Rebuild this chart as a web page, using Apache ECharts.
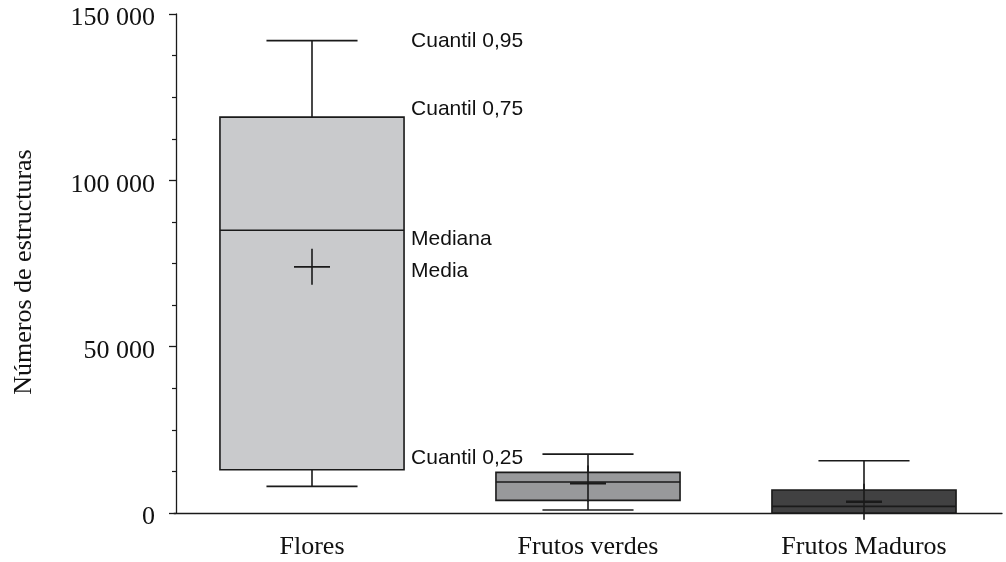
<!DOCTYPE html>
<html>
<head>
<meta charset="utf-8">
<script src="https://cdn.jsdelivr.net/npm/echarts@6/dist/echarts.min.js"></script>
<style>
  html, body { margin: 0; padding: 0; background: #fff; }
</style>
</head>
<body>
<div id="boxEcharts" style="width:1006px;height:562px"></div>
<script>
// datos
const categories = ['Flores', 'Frutos verdes', 'Frutos Maduros']
const lowWhisker = [8000, 900, 0]        // inferior
const q1 = [13000, 3800, 0]              // Cuantil 0,25
const median = [85000, 9300, 2000]       // Mediana
const q3 = [119000, 12200, 6900]         // Cuantil 0,75
const highWhisker = [142000, 17700, 15700] // Cuantil 0,95
const mean = [74000, 8900, 3400]         // Media
const yTicks = [0, 50000, 100000, 150000]
const annotations = ['Cuantil 0,95', 'Cuantil 0,75', 'Mediana', 'Media', 'Cuantil 0,25']

const boxColors = ['#c9cacc', '#98999b', '#414142']
const strokeColor = '#1a1a1a'

const boxData = categories.map((c, i) => [i, lowWhisker[i], q1[i], median[i], q3[i], highWhisker[i], mean[i]])
// etiquetas solo para la primera caja (Flores)
const annValues = [highWhisker[0], q3[0], median[0], mean[0], q1[0]]
const annShift = [1, -8, 9, 4, -12]
const annData = annotations.map((t, k) => [0, annValues[k], k])

function fmt(v) {
  return String(v).replace(/\B(?=(\d{3})+(?!\d))/g, ' ')
}

const chart = echarts.init(document.getElementById('boxEcharts'))
const option = {
  animation: false,
  backgroundColor: '#fff',
  grid: { left: 174, right: 4, top: 14, bottom: 49 },
  xAxis: {
    type: 'category',
    data: categories,
    axisLine: { lineStyle: { color: strokeColor, width: 1.3 } },
    axisTick: { alignWithLabel: true, length: 6, lineStyle: { color: strokeColor, width: 1.3 } },
    axisLabel: {
      color: '#111',
      fontFamily: 'Liberation Serif',
      fontSize: 26,
      margin: 21
    },
    splitLine: { show: false }
  },
  yAxis: {
    type: 'value',
    min: 0,
    max: 150000,
    interval: 50000,
    offset: -2,
    name: 'Números de estructuras',
    nameLocation: 'middle',
    nameGap: 139,
    nameRotate: 90,
    nameTextStyle: {
      color: '#111',
      fontFamily: 'Liberation Serif',
      fontSize: 26,
      padding: [0, 17, 0, 0]
    },
    axisLine: { show: true, lineStyle: { color: strokeColor, width: 1.3 } },
    axisTick: { show: true, length: 7, lineStyle: { color: strokeColor, width: 1.3 } },
    minorTick: { show: true, splitNumber: 4, length: 4, lineStyle: { color: strokeColor, width: 1.2 } },
    axisLabel: {
      color: '#111',
      fontFamily: 'Liberation Serif',
      fontSize: 26,
      margin: 21,
      verticalAlign: 'top',
      lineHeight: 9,
      formatter: v => yTicks.indexOf(v) >= 0 ? fmt(v) : ''
    },
    splitLine: { show: false }
  },
  series: [
    {
      type: 'custom',
      data: boxData,
      encode: { x: 0, y: [1, 2, 3, 4, 5, 6] },
      renderItem: function (params, api) {
        const i = api.value(0)
        const band = api.size([1, 0])[0]
        const bw = band * 0.667 / 2
        const cw = band * 0.33 / 2
        const cx = api.coord([i, 0])[0]
        const yLow = api.coord([i, api.value(1)])[1]
        const yQ1 = api.coord([i, api.value(2)])[1]
        const yMed = api.coord([i, api.value(3)])[1]
        const yQ3 = api.coord([i, api.value(4)])[1]
        const yHigh = api.coord([i, api.value(5)])[1]
        const yMean = api.coord([i, api.value(6)])[1]
        const ls = { stroke: strokeColor, lineWidth: 1.6 }
        const cross = 18
        return {
          type: 'group',
          children: [
            { type: 'line', shape: { x1: cx, y1: yHigh, x2: cx, y2: yQ3 }, style: ls },
            { type: 'line', shape: { x1: cx - cw, y1: yHigh, x2: cx + cw, y2: yHigh }, style: ls },
            { type: 'line', shape: { x1: cx, y1: yQ1, x2: cx, y2: yLow }, style: ls },
            { type: 'line', shape: { x1: cx - cw, y1: yLow, x2: cx + cw, y2: yLow }, style: ls },
            {
              type: 'rect',
              shape: { x: cx - bw, y: yQ3, width: bw * 2, height: yQ1 - yQ3 },
              style: { fill: boxColors[i], stroke: strokeColor, lineWidth: 1.6 }
            },
            { type: 'line', shape: { x1: cx - bw, y1: yMed, x2: cx + bw, y2: yMed }, style: ls },
            { type: 'line', shape: { x1: cx - cross, y1: yMean, x2: cx + cross, y2: yMean }, style: { stroke: strokeColor, lineWidth: i === 0 ? 1.6 : 2.4 } },
            { type: 'line', shape: { x1: cx, y1: yMean - cross, x2: cx, y2: yMean + cross }, style: ls }
          ]
        }
      },
      z: 3
    },
    {
      type: 'custom',
      data: annData,
      encode: { x: 0, y: 1 },
      renderItem: function (params, api) {
        const i = api.value(0)
        const band = api.size([1, 0])[0]
        const bw = band * 0.667 / 2
        const p = api.coord([i, api.value(1)])
        const k = api.value(2)
        return {
          type: 'text',
          x: p[0] + bw + 7,
          y: p[1] + annShift[k],
          style: {
            text: annotations[k],
            fill: '#111',
            font: '21px "Liberation Sans"',
            align: 'left',
            verticalAlign: 'middle'
          }
        }
      },
      z: 4
    }
  ]
}
chart.setOption(option)
</script>
</body>
</html>
